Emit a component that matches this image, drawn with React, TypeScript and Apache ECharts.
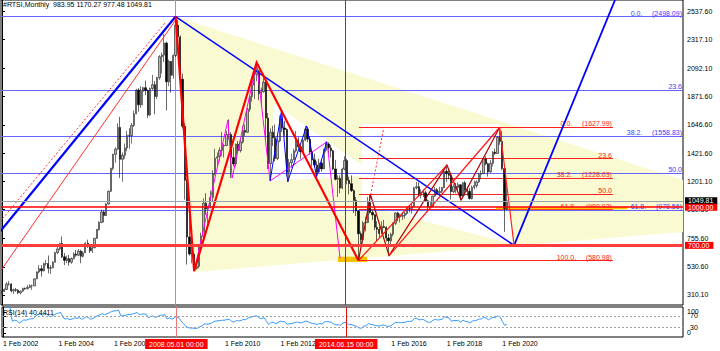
import React, { useEffect, useRef } from 'react';
import * as echarts from 'echarts';

// Monthly RTSI candles [open, high, low, close]; month index 0 = Feb 2002
const y2002 = [[322,345,315,338],[338,362,333,353],[353,410,350,397],[397,420,382,397],[397,402,330,343],[343,360,318,352],[352,365,335,348],[348,356,318,327],[327,345,315,340],[340,368,337,362],[362,369,350,359]];
const y2003 = [[359,388,355,370],[370,395,365,382],[382,392,350,382],[382,440,380,437],[437,495,435,491],[491,545,480,517],[517,545,455,500],[500,565,495,556],[556,585,540,557],[557,620,480,520],[520,545,475,525],[525,575,520,567]];
const y2004 = [[567,650,565,643],[643,690,630,672],[672,720,660,714],[714,770,600,610],[610,640,545,582],[582,620,560,596],[596,625,540,568],[568,605,555,596],[596,645,590,632],[632,665,610,623],[623,670,615,655],[655,665,560,614]];
const y2005 = [[614,655,605,643],[643,725,640,717],[717,745,680,695],[695,710,640,658],[658,690,640,681],[681,760,678,755],[755,830,750,825],[825,890,815,880],[880,980,875,962],[962,975,880,935],[935,1030,930,1025],[1025,1130,1020,1125]];
const y2006 = [[1125,1310,1120,1305],[1305,1420,1290,1415],[1415,1470,1350,1457],[1457,1660,1450,1627],[1627,1710,1230,1376],[1376,1430,1200,1409],[1409,1500,1380,1465],[1465,1600,1440,1564],[1564,1620,1460,1563],[1563,1660,1500,1643],[1643,1760,1630,1734],[1734,1930,1730,1921]];
const y2007 = [[1921,1935,1750,1804],[1804,1950,1780,1910],[1910,1945,1800,1939],[1939,1995,1880,1917],[1917,1925,1700,1725],[1725,1940,1715,1932],[1932,2040,1920,1963],[1963,1990,1730,1870],[1870,2025,1850,2018],[2018,2195,2000,2183],[2183,2215,2050,2195],[2195,2360,2140,2290]];
const y2008 = [[2290,2300,1760,1985],[1985,2160,1950,2145],[2145,2150,1900,2036],[2036,2200,2010,2192],[2192,2498,2180,2431],[2431,2470,2270,2338],[2338,2350,1960,2006],[2006,2050,1620,1636],[1636,1660,1060,1211],[1211,1220,549,766],[766,940,620,632],[632,700,560,632]];
const y2009 = [[632,650,498,520],[520,580,510,535],[535,700,520,689],[689,800,650,772],[772,1070,760,1031],[1031,1110,940,987],[987,1010,870,1007],[1007,1130,990,1077],[1077,1290,1040,1264],[1264,1460,1250,1385],[1385,1430,1320,1396],[1396,1470,1360,1445]];
const y2010 = [[1445,1590,1400,1480],[1480,1500,1390,1485],[1485,1600,1480,1572],[1572,1690,1530,1571],[1571,1590,1230,1390],[1390,1470,1320,1340],[1340,1500,1320,1495],[1495,1520,1430,1445],[1445,1530,1430,1512],[1512,1640,1500,1603],[1603,1650,1560,1589],[1589,1780,1585,1770]];
const y2011 = [[1770,1880,1750,1869],[1869,1990,1830,1960],[1960,2060,1850,2044],[2044,2136,1990,2069],[2069,2080,1840,1894],[1894,1940,1790,1907],[1907,2050,1900,1983],[1983,2010,1530,1700],[1700,1740,1300,1342],[1342,1620,1215,1589],[1589,1640,1480,1546],[1546,1650,1360,1382]];
const y2012 = [[1382,1540,1370,1522],[1522,1720,1510,1693],[1693,1765,1590,1622],[1622,1680,1560,1610],[1610,1620,1240,1275],[1275,1380,1200,1350],[1350,1420,1310,1373],[1373,1460,1370,1442],[1442,1600,1430,1525],[1525,1550,1460,1474],[1474,1490,1380,1436],[1436,1540,1430,1527]];
const y2013 = [[1527,1640,1520,1615],[1615,1630,1510,1535],[1535,1560,1410,1434],[1434,1450,1320,1372],[1372,1420,1310,1331],[1331,1360,1240,1277],[1277,1380,1270,1347],[1347,1370,1280,1301],[1301,1460,1300,1447],[1447,1515,1430,1497],[1497,1510,1420,1466],[1466,1490,1390,1443]];
const y2014 = [[1443,1450,1290,1301],[1301,1370,1210,1219],[1219,1250,1080,1226],[1226,1250,1110,1150],[1150,1310,1140,1299],[1299,1400,1290,1366],[1366,1380,1180,1212],[1212,1240,1100,1185],[1185,1250,1120,1130],[1130,1140,955,1053],[1053,1080,930,971],[971,975,581,791]];
const y2015 = [[791,810,700,745],[745,890,715,876],[876,925,810,880],[880,1080,875,1037],[1037,1096,950,959],[959,975,900,940],[940,945,820,842],[842,890,735,826],[826,850,765,794],[794,890,790,848],[848,900,835,841],[841,850,730,757]];
const y2016 = [[757,790,620,736],[736,800,700,787],[787,880,770,873],[873,960,860,955],[955,965,890,923],[923,950,880,929],[929,960,900,935],[935,965,910,951],[951,1000,940,990],[990,1010,960,990],[990,1030,950,1006],[1006,1160,1000,1152]];
const y2017 = [[1152,1200,1140,1161],[1161,1195,1080,1094],[1094,1140,1070,1114],[1114,1140,1080,1113],[1113,1130,1040,1050],[1050,1060,980,1001],[1001,1040,990,1007],[1007,1090,1000,1087],[1087,1160,1080,1138],[1138,1150,1100,1113],[1113,1160,1100,1125],[1125,1160,1110,1154]];
const y2018 = [[1154,1300,1150,1282],[1282,1335,1200,1264],[1264,1300,1220,1250],[1250,1260,1060,1122],[1122,1180,1110,1163],[1163,1190,1110,1154],[1154,1195,1130,1176],[1176,1180,1056,1088],[1088,1195,1070,1192],[1192,1205,1090,1133],[1133,1160,1090,1125],[1125,1150,1060,1068]];
const y2019 = [[1068,1170,1060,1156],[1156,1210,1140,1168],[1168,1210,1150,1199],[1199,1270,1190,1257],[1257,1290,1220,1265],[1265,1380,1260,1379],[1379,1400,1330,1341],[1341,1350,1240,1277],[1277,1370,1270,1345],[1345,1440,1320,1433],[1433,1460,1410,1422],[1422,1560,1420,1549]];
const y2020 = [[1549,1628,1490,1517],[1517,1600,1290,1304],[1304,1340,806,990],[983.95,1170.27,977.48,1049.81]];

const yearBlocks = [y2002,y2003,y2004,y2005,y2006,y2007,y2008,y2009,y2010,y2011,y2012,y2013,y2014,y2015,y2016,y2017,y2018,y2019,y2020];

// axis ticks (the 2008 and 2014 dates are hidden under the time-line boxes)
const tickMonths = [0, 24, 48, 96, 120, 168, 192, 216];
const tickLabels = ['1 Feb 2002','1 Feb 2004','1 Feb 2006','1 Feb 2010','1 Feb 2012','1 Feb 2016','1 Feb 2018','1 Feb 2020'];
const priceTicks = [2537.6, 2317.1, 2092.1, 1871.6, 1646.6, 1421.6, 1201.1, 980.6, 755.6, 530.6, 310.1];
const rsiEdgeTickPos = [12, 84];
const rsiEdgeTickLabels = ['0', '100'];
const rsiLevels = [30, 70];
const rsiLevelLabels = ['30', '70'];

// Fibonacci levels
const blueFibLevels = [2498.09, 1917.8, 1558.83, 1268.7, 978.56];
const blueFibLabels = ['0.0.     (2498.09)', '23.6', '38.2.     (1558.83)', '50.0', '61.8.     (978.56)'];
const redFibLevels = [1627.99, 1380.9, 1228.03, 1104.5, 980.92, 580.98];
const redFibLabels = ['0.0.     (1627.99)', '23.6', '38.2.     (1228.03)', '50.0', '61.8.     (980.92)', '100.0.     (580.98)'];
const redFibSpan = [154.2, 263.9];

// price lines with right-side boxes
const priceLineValues = [1049.81, 1000, 700];
const priceLineLabels = ['1049.81', '1000.00', '700.00'];

// vertical time lines
const vLineMonths = [75, 148.47];
const vLineLabels = ['2008.05.01 00:00', '2014.06.15 00:00'];

// wave pivots [month index, price]
const pPeak = [75, 2498];
const pA = [83, 498];
const pB = [110, 2136];
const pC = [154, 581];
const pD = [215, 1628];
const pE = [221.2, 700];
const cdWaves = [[159.2, 1096], [167.2, 620], [192.2, 1331], [198.3, 1056]];
const magentaPath = [pA, [97.6, 1685], [99.4, 1229], pB, [115.8, 1206], [140.4, 1514], [146, 601]];
const blueZigzag = [[115.8, 1206], [120.8, 1764], [123.4, 1200], [131.6, 1638], [135.9, 1240], [140.3, 1514]];
const leftTrendBlue = [[-0.864, 807], pPeak];
const leftTrendRed = [[-0.864, 493], [75, 2470]];
const leftTrendDotted = [[-0.864, 886], [70.8, 2455]];
const projectionUp = [pE, [264.8, 2628]];
const dottedCD = [cdWaves[0], [165, 1630]];
const goldLine = [[213.3, 993], [270, 993]];

// shaded areas
const triangleMain = [[75, 2498], [83, 491], [294.17, 805], [294.17, 1213]];
const overlapWedge = [[117.5, 1815], [161.6, 1253], [115.8, 1206]];
const overlapCenter = [[155.5, 1654], [215, 1654], [221.2, 708], [155.5, 1017]];
const boxC = [[145.1, 611], [157.7, 611], [157.7, 569], [145.1, 569]];

const waveLetters = ['A', 'B', 'C', 'D', 'E'];
const waveLetterPos = [[86, 428], [110.15, 2282], [155.9, 428], [216, 1790], [216, 506]];

const X_MIN = -0.432;
const X_MAX = 294.17;
const FONT = 'Liberation Sans, Arial, sans-serif';

export default function App() {
  const ref = useRef<HTMLDivElement>(null);

  useEffect(() => {
    document.body.style.margin = '0';
    if (!ref.current) return;
    const chart = echarts.init(ref.current, undefined, { renderer: 'svg' });

    const ohlc = yearBlocks.flat();
    const candleData = ohlc.map((r, i) => [i, r[0], r[3], r[2], r[1]]);
    const closes = ohlc.map((r) => r[3]);

    // RSI(14), Wilder smoothing, from the closes
    const rsi: number[][] = [];
    let ag = 0;
    let al = 0;
    for (let i = 1; i < closes.length; i++) {
      const ch = closes[i] - closes[i - 1];
      const n = Math.min(i, 14);
      ag += (Math.max(ch, 0) - ag) / n;
      al += (Math.max(-ch, 0) - al) / n;
      rsi.push([i, al === 0 ? 100 : 100 - 100 / (1 + ag / al)]);
    }

    const seg = (pts: number[][], color: string, width: number, type: any = 'solid') => ({
      coords: pts,
      lineStyle: { color, width, type, opacity: 1 },
    });

    const lineItems = [
      seg(leftTrendDotted, '#ff3030', 1, [2, 2]),
      seg(leftTrendRed, '#ff3030', 1),
      seg(leftTrendBlue, '#0000ff', 2.2),
      seg([pPeak, pE], '#0000ff', 1.5),
      seg(projectionUp, '#0000ff', 1.8),
      seg(magentaPath, '#ff00ff', 1),
      seg(blueZigzag, '#0000ff', 1),
      seg([pPeak, pA, pB, pC], '#ff0000', 2.2),
      seg([pC, ...cdWaves, pD], '#b00000', 1.2),
      seg([pC, cdWaves[2]], '#ff1010', 1.2),
      seg([cdWaves[1], pD], '#ff1010', 1.2),
      seg([pD, pE], '#ff2020', 1.2),
      seg(dottedCD, '#ff3030', 1, [2, 2]),
    ];

    const areas = [
      { pts: triangleMain, fill: '#fafad2' },
      { pts: overlapWedge, fill: '#ffffff' },
      { pts: overlapCenter, fill: '#ffffff' },
      { pts: boxC, fill: '#f5c000' },
    ];

    const option: any = {
      animation: false,
      backgroundColor: '#ffffff',
      textStyle: { fontFamily: FONT },
      title: [
        {
          text: '#RTSI,Monthly  983.95 1170.27 977.48 1049.81',
          left: 3, top: 1, padding: 0,
          textStyle: { fontSize: 7, fontWeight: 'normal', color: '#000', fontFamily: FONT },
        },
        {
          text: 'RSI(14) 40.4411',
          left: 3, top: 309, padding: 0,
          textStyle: { fontSize: 7, fontWeight: 'normal', color: '#000', fontFamily: FONT },
        },
      ],
      grid: [
        { left: 1, top: 0, width: 682, height: 305, show: true, borderColor: '#000', borderWidth: 1 },
        { left: 1, top: 307, width: 682, height: 30, show: true, borderColor: '#000', borderWidth: 1 },
      ],
      xAxis: [
        { type: 'value', gridIndex: 0, min: X_MIN, max: X_MAX, show: false },
        {
          type: 'value', gridIndex: 1, min: X_MIN, max: X_MAX,
          axisLine: { show: false }, axisTick: { show: false }, splitLine: { show: false },
          axisLabel: {
            customValues: tickMonths,
            formatter: (v: number) => tickLabels[tickMonths.indexOf(v)] ?? '',
            align: 'left', fontSize: 7, color: '#000', margin: 3, hideOverlap: false,
          },
        },
      ],
      yAxis: [
        {
          type: 'value', gridIndex: 0, position: 'right', min: 231.5, max: 2627.96,
          splitLine: { show: false },
          axisLine: { show: true, lineStyle: { color: '#000' } },
          axisTick: { show: true, customValues: priceTicks, length: 3, lineStyle: { color: '#000' } },
          axisLabel: { customValues: priceTicks, formatter: (v: number) => v.toFixed(2), fontSize: 7, color: '#000', margin: 4, hideOverlap: false },
        },
        {
          type: 'value', gridIndex: 1, position: 'right', min: -1.7, max: 100.7,
          splitLine: { show: false },
          axisLine: { show: true, lineStyle: { color: '#000' } },
          axisTick: { show: true, customValues: [...rsiEdgeTickPos, ...rsiLevels], length: 3, lineStyle: { color: '#000' } },
          axisLabel: {
            customValues: rsiEdgeTickPos,
            formatter: (v: number) => rsiEdgeTickLabels[rsiEdgeTickPos.indexOf(v)] ?? '',
            fontSize: 7, color: '#000', margin: 4, hideOverlap: false,
          },
        },
      ],
      series: [
        {
          type: 'custom', xAxisIndex: 0, yAxisIndex: 0, z: 1, silent: true, clip: true,
          data: areas.map((a, i) => [a.pts[0][0], a.pts[0][1], i]),
          encode: { x: 0, y: 1 },
          renderItem: (params: any, api: any) => {
            const a = areas[api.value(2)];
            return {
              type: 'polygon',
              shape: { points: a.pts.map((p) => api.coord(p)) },
              style: { fill: a.fill },
            };
          },
        },
        {
          type: 'line', xAxisIndex: 0, yAxisIndex: 0, data: [], silent: true,
          markLine: {
            z: 2, symbol: 'none', silent: true, animation: false,
            data: [
              ...blueFibLevels.map((v, i) => ({
                yAxis: v,
                lineStyle: { color: '#6464ff', width: 1, type: 'solid' },
                label: { show: true, position: 'insideEndTop', formatter: blueFibLabels[i], color: '#3c3cff', fontSize: 7, distance: [1, 0], fontFamily: FONT },
              })),
              ...redFibLevels.map((v, i) => [
                {
                  coord: [redFibSpan[0], v],
                  lineStyle: { color: '#ff2020', width: 1, type: 'solid' },
                  label: { show: true, position: 'insideEndTop', formatter: redFibLabels[i], color: '#ff2020', fontSize: 7, distance: [1, 0], fontFamily: FONT },
                },
                { coord: [redFibSpan[1], v] },
              ]),
              ...vLineMonths.map((m, i) => ({
                xAxis: m,
                lineStyle: { color: i === 0 ? '#f07878' : '#e01010', width: 1, type: 'solid' },
                label: { show: false },
              })),
            ],
          },
        },
        {
          type: 'lines', coordinateSystem: 'cartesian2d', xAxisIndex: 0, yAxisIndex: 0,
          polyline: true, silent: true, z: 3,
          lineStyle: { opacity: 1 },
          data: [seg(goldLine, '#ffc400', 2.2)],
        },
        {
          type: 'candlestick', xAxisIndex: 0, yAxisIndex: 0, z: 4, silent: true,
          barWidth: 1.8,
          data: candleData,
          itemStyle: {
            color: '#b4b4b4', color0: '#000000',
            borderColor: '#1a1a1a', borderColor0: '#000000', borderWidth: 0.6,
          },
        },
        {
          type: 'lines', coordinateSystem: 'cartesian2d', xAxisIndex: 0, yAxisIndex: 0,
          polyline: true, silent: true, z: 5,
          lineStyle: { opacity: 1 },
          data: lineItems,
        },
        {
          type: 'line', xAxisIndex: 0, yAxisIndex: 0, data: [], silent: true,
          markLine: {
            z: 7, symbol: 'none', silent: true, animation: false,
            data: priceLineValues.map((v, i) => ({
              yAxis: v,
              lineStyle: {
                color: i === 0 ? '#9aa4b0' : i === 1 ? '#ff0000' : '#ff3c3c',
                width: i === 0 ? 1 : i === 1 ? 1.5 : 3,
                type: 'solid',
              },
              label: {
                show: true, position: 'end', formatter: priceLineLabels[i], distance: 2,
                color: '#ffffff', backgroundColor: i === 0 ? '#000000' : '#ff0000',
                fontSize: 7, padding: [0, 4, 0, 3], lineHeight: 7, fontFamily: FONT,
              },
            })),
          },
        },
        {
          type: 'scatter', xAxisIndex: 0, yAxisIndex: 0, z: 6, silent: true,
          symbolSize: 1, itemStyle: { opacity: 0 },
          data: waveLetters.map((n, i) => ({ name: n, value: waveLetterPos[i] })),
          label: {
            show: true, position: 'inside', formatter: (p: any) => p.name,
            color: '#ff0000', fontSize: 17, fontFamily: FONT,
          },
        },
        {
          type: 'line', xAxisIndex: 1, yAxisIndex: 1, data: rsi, showSymbol: false, silent: true, z: 3,
          lineStyle: { color: '#3399ff', width: 1 },
          markLine: {
            z: 4, symbol: 'none', silent: true, animation: false,
            data: [
              ...rsiLevels.map((v, i) => ({
                yAxis: v,
                lineStyle: { color: '#a0a0a0', width: 1, type: [2, 2] },
                label: {
                  show: true, position: 'end', formatter: rsiLevelLabels[i], distance: 7,
                  color: '#000', fontSize: 7, fontFamily: FONT,
                },
              })),
              ...vLineMonths.map((m, i) => ({
                xAxis: m,
                lineStyle: { color: i === 0 ? '#f07878' : '#e01010', width: 1, type: 'solid' },
                label: {
                  show: true, position: 'start', formatter: vLineLabels[i], distance: 2,
                  color: '#ffffff', backgroundColor: '#ff0000', fontSize: 7,
                  padding: [2, 4, 1, 4], fontFamily: FONT,
                },
              })),
            ],
          },
        },
      ],
    };

    chart.setOption(option);
    return () => chart.dispose();
  }, []);

  return <div ref={ref} style={{ position: 'absolute', left: 0, top: 0, width: 720, height: 351 }} />;
}
